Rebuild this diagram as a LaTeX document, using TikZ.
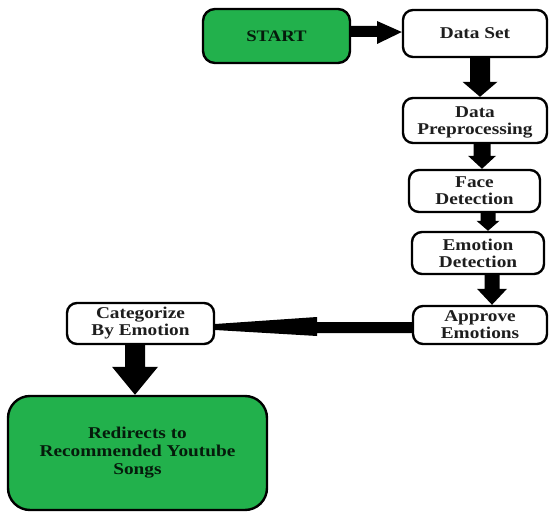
\documentclass[tikz,border=0pt]{standalone}
\usepackage{fontspec}
\setmainfont{Liberation Serif}[FakeStretch=1.17]
\usetikzlibrary{calc}
\definecolor{boxgreen}{RGB}{34,177,76}
\definecolor{txtdark}{RGB}{30,30,30}
\tikzset{
  box/.style={draw=black, line width=2.4pt, rounded corners=10pt, fill=white,
    inner sep=0pt, align=center, text=txtdark,
    font=\bfseries\fontsize{16.5}{17}\selectfont},
  greenbox/.style={box, fill=boxgreen, text=black!85!boxgreen},
  arrowfill/.style={fill=black}
}
\newcommand\varr[6]{% from, to, x centre, shaft half, head half, head length
  \fill[arrowfill] let \p1=(#1.south), \p2=(#2.north) in
    (#3-#4,\y1) -- (#3+#4,\y1) -- (#3+#4,\y2+#6) -- (#3+#5,\y2+#6) --
    (#3,\y2) -- (#3-#5,\y2+#6) -- (#3-#4,\y2+#6) -- cycle;}
\begin{document}
\begin{tikzpicture}[x=1pt,y=1pt]
\useasboundingbox (0,0) rectangle (549,-513);
\node[greenbox, rounded corners=12pt, minimum width=147pt, minimum height=54pt,
  font=\bfseries\fontsize{16}{18}\selectfont] (start) at (276.5,-36) {START};
\node[box, minimum width=144pt, minimum height=47pt] (ds) at (475,-33.5) {Data Set};
\node[box, minimum width=144pt, minimum height=45pt, text depth=0pt] (dp) at (475,-120.5) {Data\\Preprocessing};
\node[box, minimum width=131pt, minimum height=42pt] (fd) at (474.5,-191) {Face\\Detection};
\node[box, minimum width=132pt, minimum height=42pt] (ed) at (478,-253) {Emotion\\Detection};
\node[box, minimum width=134pt, minimum height=38pt] (ae) at (480,-325) {Approve\\Emotions};
\node[box, minimum width=147pt, minimum height=41pt] (ce) at (140.5,-323.5) {Categorize\\By Emotion};
\node[greenbox, rounded corners=22pt, minimum width=259pt, minimum height=114pt,
  font=\bfseries\fontsize{16.5}{18}\selectfont] (rs) at (137.5,-453)
  {Redirects to\\Recommended Youtube\\Songs};
% START -> Data Set
\fill[arrowfill] let \p1=(start.east), \p2=(ds.west) in
  (\x1,-26) -- (377,-26) -- (377,-21) -- (\x2,-32) -- (377,-44) -- (377,-37) -- (\x1,-37) -- cycle;
% vertical arrows
\varr{ds}{dp}{480}{10}{17.5}{15}
\varr{dp}{fd}{482}{8.5}{14}{13}
\varr{fd}{ed}{488}{7.5}{11.5}{10}
\varr{ed}{ae}{492}{7.5}{15}{16}
\varr{ce}{rs}{135}{10}{23}{28}
% Approve -> Categorize (tapered head)
\fill[arrowfill] let \p1=(ae.west), \p2=(ce.east) in
  (\x1,-322) -- (317,-322) -- (317,-317) -- (\x2,-324) -- (\x2,-330) -- (317,-336) -- (317,-333) -- (\x1,-333) -- cycle;
\end{tikzpicture}
\end{document}
